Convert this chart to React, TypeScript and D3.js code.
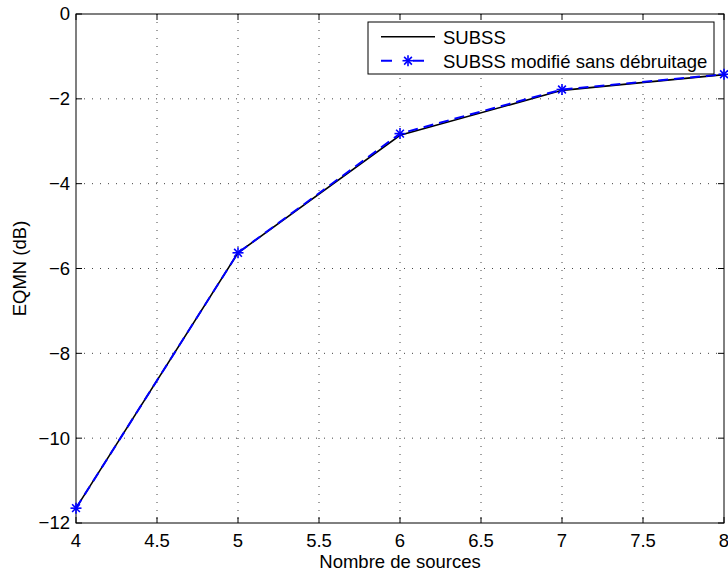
import React from "react";
import * as d3 from "d3";

const sources = [4, 5, 6, 7, 8];
const subss = [-11.65, -5.63, -2.86, -1.8, -1.43];
const subssModifie = [-11.65, -5.63, -2.82, -1.78, -1.42];
const xTicks = [4, 4.5, 5, 5.5, 6, 6.5, 7, 7.5, 8];
const yTicks = [0, -2, -4, -6, -8, -10, -12];
const seriesNames = ["SUBSS", "SUBSS modifié sans débruitage"];

const W = 728;
const H = 574;
const L = 76;
const R = 724;
const T = 14;
const B = 523;
const FS = 18.5;
const FONT = "'Liberation Sans', Arial, Helvetica, sans-serif";

function Star({ x, y, r = 5.5, color = "#0000ff" }: { x: number; y: number; r?: number; color?: string }) {
  const d = r * Math.SQRT1_2;
  return (
    <g stroke={color} strokeWidth={1.6}>
      <line x1={x - r} y1={y} x2={x + r} y2={y} />
      <line x1={x} y1={y - r} x2={x} y2={y + r} />
      <line x1={x - d} y1={y - d} x2={x + d} y2={y + d} />
      <line x1={x - d} y1={y + d} x2={x + d} y2={y - d} />
    </g>
  );
}

export default function App() {
  const x = d3.scaleLinear().domain([4, 8]).range([L, R]);
  const y = d3.scaleLinear().domain([-12, 0]).range([B, T]);
  const line = d3
    .line<number>()
    .x((_, i) => x(sources[i]))
    .y((v) => y(v));
  const fmt = (v: number) => String(v).replace("-", "\u2212");
  const tl = 6;

  return (
    <svg
      width={W}
      height={H}
      style={{ position: "absolute", left: 0, top: 0, background: "#fff" }}
      fontFamily={FONT}
    >
      <rect x={0} y={0} width={W} height={H} fill="#fff" />
      {/* grid */}
      <g stroke="#444" strokeWidth={1} strokeDasharray="1,7">
        {xTicks.slice(1, -1).map((t) => (
          <line key={"gx" + t} x1={x(t)} x2={x(t)} y1={T} y2={B} />
        ))}
        {yTicks.slice(1, -1).map((t) => (
          <line key={"gy" + t} x1={L} x2={R} y1={y(t)} y2={y(t)} />
        ))}
      </g>
      {/* ticks */}
      <g stroke="#000" strokeWidth={1}>
        {xTicks.map((t) => (
          <g key={"tx" + t}>
            <line x1={x(t)} x2={x(t)} y1={B} y2={B - tl} />
            <line x1={x(t)} x2={x(t)} y1={T} y2={T + tl} />
          </g>
        ))}
        {yTicks.map((t) => (
          <g key={"ty" + t}>
            <line x1={L} x2={L + tl} y1={y(t)} y2={y(t)} />
            <line x1={R} x2={R - tl} y1={y(t)} y2={y(t)} />
          </g>
        ))}
      </g>
      {/* box */}
      <rect x={L} y={T} width={R - L} height={B - T} fill="none" stroke="#000" strokeWidth={1} />
      {/* tick labels */}
      <g fontSize={FS} fill="#000">
        {xTicks.map((t) => (
          <text key={"lx" + t} x={x(t)} y={546.5} textAnchor="middle">
            {fmt(t)}
          </text>
        ))}
        {yTicks.map((t) => (
          <text key={"ly" + t} x={70} y={y(t)} dy="0.35em" textAnchor="end">
            {fmt(t)}
          </text>
        ))}
      </g>
      {/* axis labels */}
      <text x={(L + R) / 2} y={568} textAnchor="middle" fontSize={FS}>
        Nombre de sources
      </text>
      <text
        transform={`translate(26,${(T + B) / 2}) rotate(-90)`}
        textAnchor="middle"
        fontSize={FS}
      >
        EQMN (dB)
      </text>
      {/* series */}
      <path d={line(subss) || ""} fill="none" stroke="#000" strokeWidth={1.6} />
      <path
        d={line(subssModifie) || ""}
        fill="none"
        stroke="#0000ff"
        strokeWidth={2}
        strokeDasharray="10,6"
      />
      {subssModifie.map((v, i) => (
        <Star key={"s" + i} x={x(sources[i])} y={y(v)} />
      ))}
      {/* legend */}
      <rect x={368} y={22} width={346} height={52} fill="#fff" stroke="#000" strokeWidth={1} />
      <line x1={381} x2={435} y1={36.7} y2={36.7} stroke="#000" strokeWidth={1.6} />
      <text x={443} y={43.5} fontSize={FS}>
        {seriesNames[0]}
      </text>
      <line x1={381} x2={435} y1={60.7} y2={60.7} stroke="#0000ff" strokeWidth={2} strokeDasharray="11,21,11" />
      <Star x={408} y={60.7} />
      <text x={443} y={67.5} fontSize={FS}>
        {seriesNames[1]}
      </text>
    </svg>
  );
}
